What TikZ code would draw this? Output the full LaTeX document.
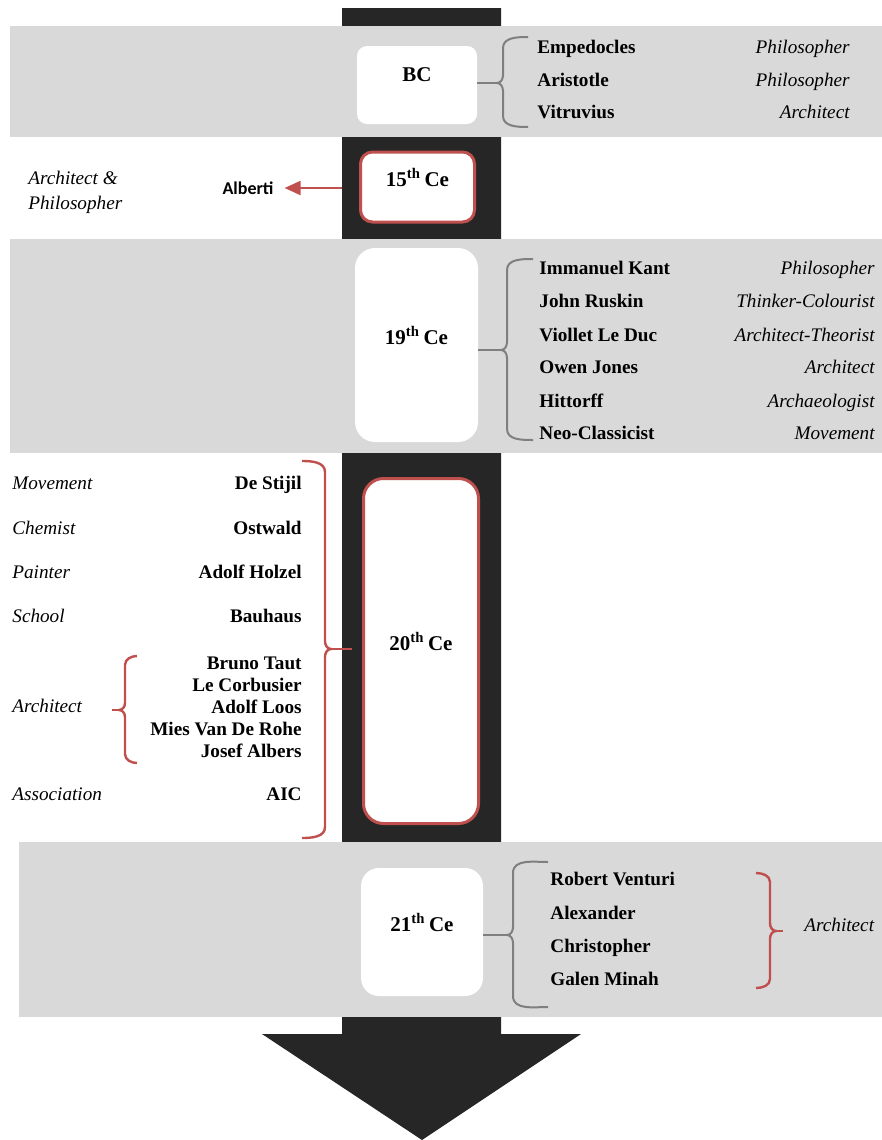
\documentclass[tikz,border=0pt]{standalone}
\usepackage{fontspec}
\setmainfont{Liberation Serif}
\newfontfamily\albfont{Carlito}
\usetikzlibrary{arrows.meta}

\definecolor{barcol}{HTML}{262626}
\definecolor{bandcol}{HTML}{D9D9D9}
\definecolor{accred}{HTML}{C0504D}
\definecolor{bracegray}{HTML}{7F7F7F}

\begin{document}
\begin{tikzpicture}[
    x=0.5pt, y=-0.5pt,
    era/.style={
        rectangle, rounded corners=5pt, fill=white, align=center,
        font=\fontsize{10.5}{10}\selectfont\bfseries
    },
    redera/.style={era, draw=accred, line width=1.5pt},
    person/.style={
        font=\fontsize{9.6}{11}\selectfont\bfseries,
        inner sep=0pt, text height=7pt, text depth=2pt
    },
    job/.style={
        font=\fontsize{9.6}{11}\selectfont\itshape,
        inner sep=0pt, text height=7pt, text depth=2pt
    },
    gbrace/.style={draw=bracegray, line width=1pt},
    rbrace/.style={draw=accred, line width=1.2pt},
    toarrow/.style={-{Triangle[length=8pt, width=7pt]}, draw=accred, line width=1pt}
]
\useasboundingbox (0,0) rectangle (882,1140);

% timeline bar and arrow head
\fill[barcol] (342,8) -- (501,8) -- (501,1034) -- (581,1034) -- (422,1140)
    -- (262,1034) -- (342,1034) -- cycle;

% grey bands
\fill[bandcol] (10,26) rectangle (882,137);
\fill[bandcol] (10,239) rectangle (882,453);
\fill[bandcol] (19,842) rectangle (882,1017);

% era boxes
\node[era, minimum width=60pt, minimum height=39pt] (bc) at (417,85) {BC\\\mbox{}};
\node[redera, minimum width=57pt, minimum height=35pt, rounded corners=6pt] (c15) at (417.5,187) {15\textsuperscript{th}\,Ce\\\mbox{}};
\node[era, minimum width=61.5pt, minimum height=97pt, rounded corners=10pt] (c19) at (416.5,345) {19\textsuperscript{th}\,Ce\\\mbox{}};
\node[redera, minimum width=57.5pt, minimum height=172.5pt, rounded corners=10pt] (c20) at (421,651) {20\textsuperscript{th}\,Ce\\\mbox{}};
\node[era, minimum width=61pt, minimum height=64pt, rounded corners=9pt] (c21) at (422,932) {21\textsuperscript{th}\,Ce\\\mbox{}};

% BC
\node[person, anchor=west] (emp) at (537,48) {Empedocles};
\node[person, anchor=west] (ari) at (537,81) {Aristotle};
\node[person, anchor=west] (vit) at (537,113) {Vitruvius};
\node[job, anchor=east] (empjob) at (850,48) {Philosopher};
\node[job, anchor=east] (arijob) at (850,81) {Philosopher};
\node[job, anchor=east] (vitjob) at (850,113) {Architect};
\coordinate (bcbr) at (497,83);
\draw[gbrace] (528,37) to[out=180,in=90] (503,48) -- (503,75) to[out=-90,in=0] (bcbr)
    to[out=0,in=90] (503,91) -- (503,116) to[out=-90,in=180] (528,127);
\draw[gbrace] (bc.east |- bcbr) -- (bcbr);

% 15th century
\node[font=\albfont\fontsize{9}{11}\selectfont\bfseries] (alb) at (248,188) {Alberti};
\node[font=\fontsize{9.6}{12.5}\selectfont\itshape, align=left, anchor=west, inner sep=0pt] (albjob) at (28,192.5) {Architect \&\\Philosopher};
\draw[toarrow, shorten <=8.5pt, shorten >=2pt] (c15.west |- alb) -- (alb.east);

% 19th century
\node[person, anchor=west] (kant) at (539,269) {Immanuel Kant};
\node[person, anchor=west] (ruskin) at (539,302) {John Ruskin};
\node[person, anchor=west] (viollet) at (539,336) {Viollet Le Duc};
\node[person, anchor=west] (owen) at (539,368) {Owen Jones};
\node[person, anchor=west] (hittorff) at (539,402) {Hittorff};
\node[person, anchor=west] (neo) at (539,434) {Neo-Classicist};
\node[job, anchor=east] (kantjob) at (875,269) {Philosopher};
\node[job, anchor=east] (ruskinjob) at (875,302) {Thinker-Colourist};
\node[job, anchor=east] (violletjob) at (875,336) {Architect-Theorist};
\node[job, anchor=east] (owenjob) at (875,368) {Architect};
\node[job, anchor=east] (hittorffjob) at (875,402) {Archaeologist};
\node[job, anchor=east] (neojob) at (875,434) {Movement};
\coordinate (c19br) at (501,350);
\draw[gbrace] (533,259) to[out=180,in=90] (507,270) -- (507,342) to[out=-90,in=0] (c19br)
    to[out=0,in=90] (507,358) -- (507,429) to[out=-90,in=180] (533,440);
\draw[gbrace] (c19.east |- c19br) -- (c19br);

% 20th century
\node[person, anchor=east] (stijl) at (302,484) {De Stijil};
\node[person, anchor=east] (ostwald) at (302,529) {Ostwald};
\node[person, anchor=east] (holzel) at (302,573) {Adolf Holzel};
\node[person, anchor=east] (bauhaus) at (302,617) {Bauhaus};
\node[font=\fontsize{9.6}{11}\selectfont\bfseries, align=right, anchor=east, inner sep=0pt] (archs) at (302,707)
    {Bruno Taut\\Le Corbusier\\Adolf Loos\\Mies Van De Rohe\\Josef Albers};
\node[person, anchor=east] (aic) at (302,795) {AIC};
\node[job, anchor=west] (stijljob) at (12,484) {Movement};
\node[job, anchor=west] (ostwaldjob) at (12,529) {Chemist};
\node[job, anchor=west] (holzeljob) at (12,573) {Painter};
\node[job, anchor=west] (bauhausjob) at (12,617) {School};
\node[job, anchor=west] (archsjob) at (12,707) {Architect};
\node[job, anchor=west] (aicjob) at (12,795) {Association};
\coordinate (c20br) at (331,649);
\draw[rbrace] (302,461) to[out=0,in=90] (325,472) -- (325,641) to[out=-90,in=180] (c20br)
    to[out=180,in=90] (325,657) -- (325,827) to[out=-90,in=0] (302,838);
\draw[rbrace, shorten >=5pt] (c20br) -- (c20.west |- c20br);
\coordinate (archsbr) at (119,710);
\draw[rbrace] (137,656) to[out=180,in=90] (125,665) -- (125,703) to[out=-90,in=0] (archsbr)
    to[out=0,in=90] (125,717) -- (125,754) to[out=-90,in=180] (137,763);
\draw[rbrace, shorten >=15pt] (archsbr) -- (archsjob.east |- archsbr);

% 21st century
\node[person, anchor=west] (venturi) at (550,880) {Robert Venturi};
\node[person, anchor=west] (alexander) at (550,914) {Alexander};
\node[person, anchor=west] (christopher) at (550,947) {Christopher};
\node[person, anchor=west] (minah) at (550,980) {Galen Minah};
\node[job, anchor=west] (c21job) at (804,926) {Architect};
\coordinate (c21br) at (507,935);
\draw[gbrace] (548,862) to[out=180,in=90] (513,873) -- (513,927) to[out=-90,in=0] (c21br)
    to[out=0,in=90] (513,943) -- (513,996) to[out=-90,in=180] (548,1007);
\draw[gbrace] (c21.east |- c21br) -- (c21br);
\coordinate (c21jobbr) at (776,931);
\draw[rbrace] (756,873) to[out=0,in=90] (770,882) -- (770,923) to[out=-90,in=180] (c21jobbr)
    to[out=180,in=90] (770,939) -- (770,979) to[out=-90,in=0] (756,988);
\draw[rbrace, shorten >=10.5pt] (c21jobbr) -- (c21job.west |- c21jobbr);
\end{tikzpicture}
\end{document}
